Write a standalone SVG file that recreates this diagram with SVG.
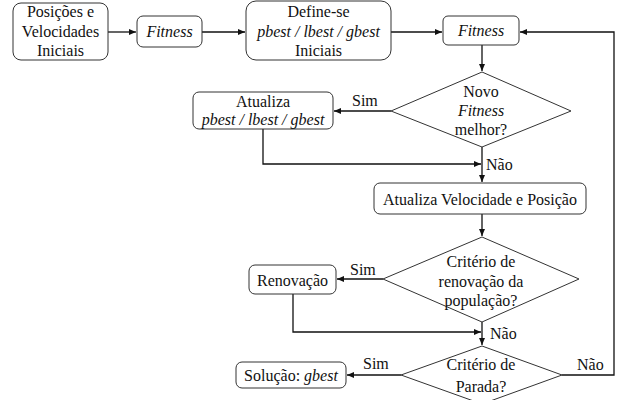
<svg xmlns="http://www.w3.org/2000/svg" width="627" height="400" viewBox="0 0 627 400" font-family="Liberation Serif, DejaVu Serif, serif">
<style>
.b{fill:#fff;stroke:#333;stroke-width:1}
text{font-family:Liberation Serif,DejaVu Serif,serif}
.t{font-size:16px;fill:#111}
.m{text-anchor:middle}
.i{font-style:italic}
.c{fill:none;stroke:#111;stroke-width:1.3}
</style>
<defs>
<marker id="a" markerWidth="8" markerHeight="8" refX="7" refY="4" orient="auto" markerUnits="userSpaceOnUse">
<path d="M0,1 L7,4 L0,7 z" fill="#111"/>
</marker>
</defs>
<rect width="627" height="400" fill="#fff"/>
<g id="connectors">
<path class="c" d="M108,32 H136" marker-end="url(#a)"/>
<path class="c" d="M202,32 H245" marker-end="url(#a)"/>
<path class="c" d="M391,32 H442" marker-end="url(#a)"/>
<path class="c" d="M482,45 V71" marker-end="url(#a)"/>
<path class="c" d="M391,111 H334" marker-end="url(#a)"/>
<path class="c" d="M263,129 V164 H481" marker-end="url(#a)"/>
<path class="c" d="M482,147 V182" marker-end="url(#a)"/>
<path class="c" d="M482,214 V236" marker-end="url(#a)"/>
<path class="c" d="M383,279 H337" marker-end="url(#a)"/>
<path class="c" d="M293,294 V332 H481" marker-end="url(#a)"/>
<path class="c" d="M482,322 V345" marker-end="url(#a)"/>
<path class="c" d="M401,375 H347" marker-end="url(#a)"/>
<path class="c" d="M562,375 H614 V32 H520" marker-end="url(#a)"/>
<text class="t" x="352" y="106">Sim</text>
<text class="t" x="486" y="170">Não</text>
<text class="t" x="350" y="275">Sim</text>
<text class="t" x="490" y="339">Não</text>
<text class="t" x="363" y="369">Sim</text>
<text class="t" x="577" y="370">Não</text>
</g>
<g id="n1">
<rect class="b" x="13" y="3" width="95" height="57" rx="8"/>
<text class="t m" x="60.5" y="17">Posições e</text>
<text class="t m" x="60.5" y="37">Velocidades</text>
<text class="t m" x="60.5" y="56">Iniciais</text>
</g>
<g id="n2">
<rect class="b" x="137" y="16" width="65" height="31" rx="6"/>
<text class="t m i" x="169.5" y="37">Fitness</text>
</g>
<g id="n3">
<rect class="b" x="246" y="1" width="145" height="59" rx="10"/>
<text class="t m" x="318.5" y="17">Define-se</text>
<text class="t m i" x="318.5" y="37">pbest / lbest / gbest</text>
<text class="t m" x="318.5" y="56">Iniciais</text>
</g>
<g id="n4">
<rect class="b" x="443" y="16" width="76" height="29" rx="5"/>
<text class="t m i" x="481" y="36">Fitness</text>
</g>
<g id="d1">
<polygon class="b" points="482,72 571,111 482,147 391,111"/>
<text class="t m" x="481" y="97">Novo</text>
<text class="t m i" x="481" y="116">Fitness</text>
<text class="t m" x="481" y="135">melhor?</text>
</g>
<g id="n5">
<rect class="b" x="193" y="92" width="140" height="37" rx="6"/>
<text class="t m" x="263" y="107">Atualiza</text>
<text class="t m i" x="263" y="125">pbest / lbest / gbest</text>
</g>
<g id="n6">
<rect class="b" x="374" y="183" width="212" height="31" rx="6"/>
<text class="t m" x="480" y="205">Atualiza Velocidade e Posição</text>
</g>
<g id="d2">
<polygon class="b" points="482,237 579,279 482,322 383,279"/>
<text class="t m" x="481" y="267">Critério de</text>
<text class="t m" x="481" y="287">renovação da</text>
<text class="t m" x="481" y="306">população?</text>
</g>
<g id="n7">
<rect class="b" x="249" y="265" width="87" height="29" rx="6"/>
<text class="t m" x="292.5" y="286">Renovação</text>
</g>
<g id="d3">
<polygon class="b" points="482,346 562,375 482,404 401,375"/>
<text class="t m" x="481" y="370">Critério de</text>
<text class="t m" x="481" y="392">Parada?</text>
</g>
<g id="n8">
<rect class="b" x="236" y="362" width="110" height="26" rx="6"/>
<text class="t m" x="291" y="381">Solução: <tspan class="i">gbest</tspan></text>
</g>
</svg>
